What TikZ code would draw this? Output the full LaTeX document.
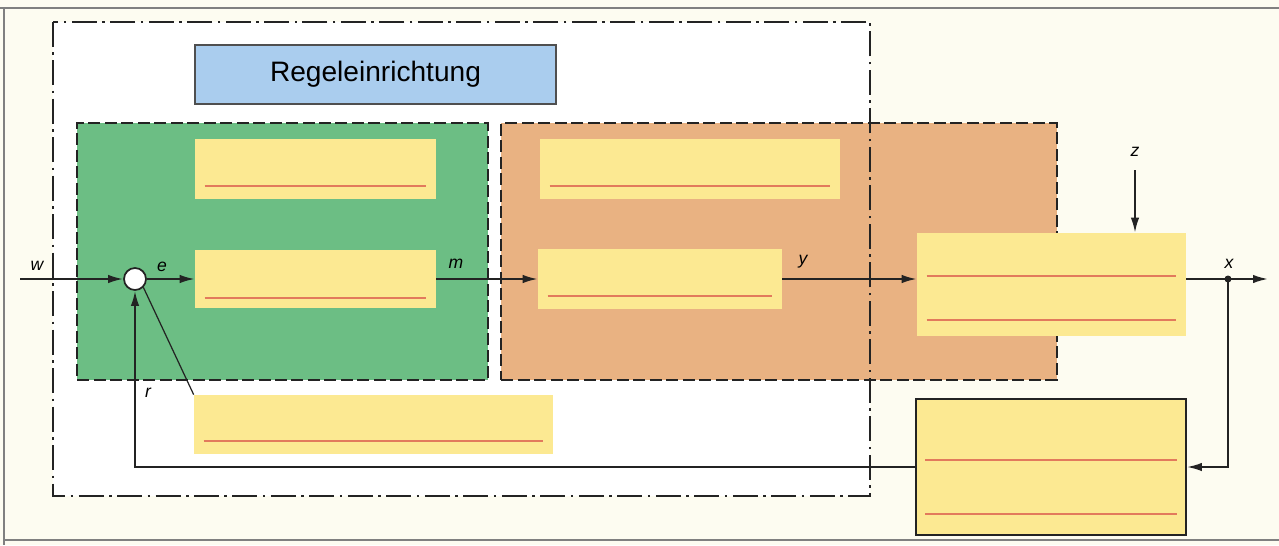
\documentclass[tikz,border=0pt]{standalone}
\usepackage{fontspec}
\setmainfont{Liberation Sans}
\usepackage{xcolor}
\usepackage{tikz}
\usetikzlibrary{arrows.meta,positioning,calc}
\definecolor{paper}{RGB}{253,252,241}
\definecolor{ink}{RGB}{35,35,35}
\definecolor{ctrlgreen}{RGB}{108,190,132}
\definecolor{actorange}{RGB}{233,178,130}
\definecolor{blockyellow}{RGB}{252,233,146}
\definecolor{titleblue}{RGB}{170,205,238}
\definecolor{sepred}{RGB}{226,122,92}
\newcommand{\sepline}[2]{\draw[sep] ([xshift=2mm,yshift=#2]#1.south west) -- ([xshift=-2mm,yshift=#2]#1.south east);}

\begin{document}
\begin{tikzpicture}[x=0.02cm, y=-0.02cm, font=\fontsize{10}{12}\selectfont, area/.style={draw=ink, line width=1.1pt, dash pattern=on 2.4mm off 0.9mm, inner sep=0pt}, blk/.style={fill=blockyellow, inner sep=0pt}, sep/.style={sepred, line width=1pt}, sig/.style={ink, line width=1.1pt, -{Latex[length=3mm, width=1.7mm]}}, lbl/.style={font=\fontsize{10}{12}\selectfont\itshape, inner sep=1pt}, dashdot/.style={ink, line width=1.2pt, dash pattern=on 5mm off 1.1mm on 0.5mm off 1.1mm}]
\useasboundingbox (0,0) rectangle (1279,545);
\fill[paper] (0,0) rectangle (1279,545);
\draw[gray, line width=0.8pt] (0,8) -- (1279,8) (4,8) -- (4,545) (4,540) -- (1279,540);
% Regeleinrichtung
\node[fill=white, minimum width=16.34cm, minimum height=9.48cm, inner sep=0pt] (rgl) at (461.5,259) {};
\node[area, fill=ctrlgreen, minimum width=8.22cm, minimum height=5.14cm] (regler) at (282.5,251.5) {};
\node[area, fill=actorange, minimum width=11.12cm, minimum height=5.14cm] (steller) at (779,251.5) {};
\draw[dashdot] (rgl.north west) rectangle (rgl.south east);
\node[draw=ink!80, line width=0.8pt, fill=titleblue, minimum width=7.22cm, minimum height=1.18cm, font=\fontsize{16}{19}\selectfont] (titel) at (375.5,74.5) {Regeleinrichtung};
% blocks
\node[blk, minimum width=4.82cm, minimum height=1.2cm] (g1) at (315.5,169) {};
\node[blk, minimum width=4.82cm, minimum height=1.18cm] (g2) at (315.5,279) {};
\node[blk, minimum width=6.0cm, minimum height=1.2cm] (o1) at (690,169) {};
\node[blk, minimum width=4.88cm, minimum height=1.2cm] (o2) at (660,279) {};
\node[blk, minimum width=5.38cm, minimum height=2.06cm] (strecke) at (1051.5,284.5) {};
\node[blk, minimum width=7.18cm, minimum height=1.18cm] (fuehler) at (373.5,424.5) {};
\node[blk, draw=ink, line width=1.1pt, minimum width=5.4cm, minimum height=2.72cm] (mess) at (1051,467) {};
\sepline{g1}{2.6mm}
\sepline{g2}{2.2mm}
\sepline{o1}{2.6mm}
\sepline{o2}{2.6mm}
\sepline{fuehler}{2.6mm}
\sepline{strecke}{1.2cm}
\sepline{strecke}{3.2mm}
\sepline{mess}{1.52cm}
\sepline{mess}{4.4mm}
% signals
\node[circle, draw=ink, line width=1pt, fill=white, minimum size=0.44cm, inner sep=0pt] (sum) at (135,279) {};
\coordinate (win) at (20,279);
\coordinate (zin) at (1135,170);
\coordinate (xout) at (1268,279);
\fill[ink] (1228,279) circle (3.5) coordinate (xdot);
\draw[sig] (win) -- (sum.west);
\draw[sig] (sum.east) -- (g2.west);
\draw[sig] (g2.east) -- (g2.east -| o2.west);
\draw[sig] (o2.east) -- (o2.east -| strecke.west);
\draw[sig] (zin) -- (zin |- strecke.north);
\draw[sig] (strecke.east |- xout) -- (xout);
\draw[sig] (xdot) |- (mess.east);
\draw[sig] (mess.west) -| (sum.south);
\draw[ink, line width=0.7pt] (sum.south east) -- (fuehler.north west);
\node[lbl] (w) at (37,266) {w};
\node[lbl] (e) at (162,267) {e};
\node[lbl] (m) at (456,264) {m};
\node[lbl] (y) at (803,262) {y};
\node[lbl] (z) at (1135,152) {z};
\node[lbl] (x) at (1229,264) {x};
\node[lbl] (r) at (148,393) {r};
\end{tikzpicture}
\end{document}
